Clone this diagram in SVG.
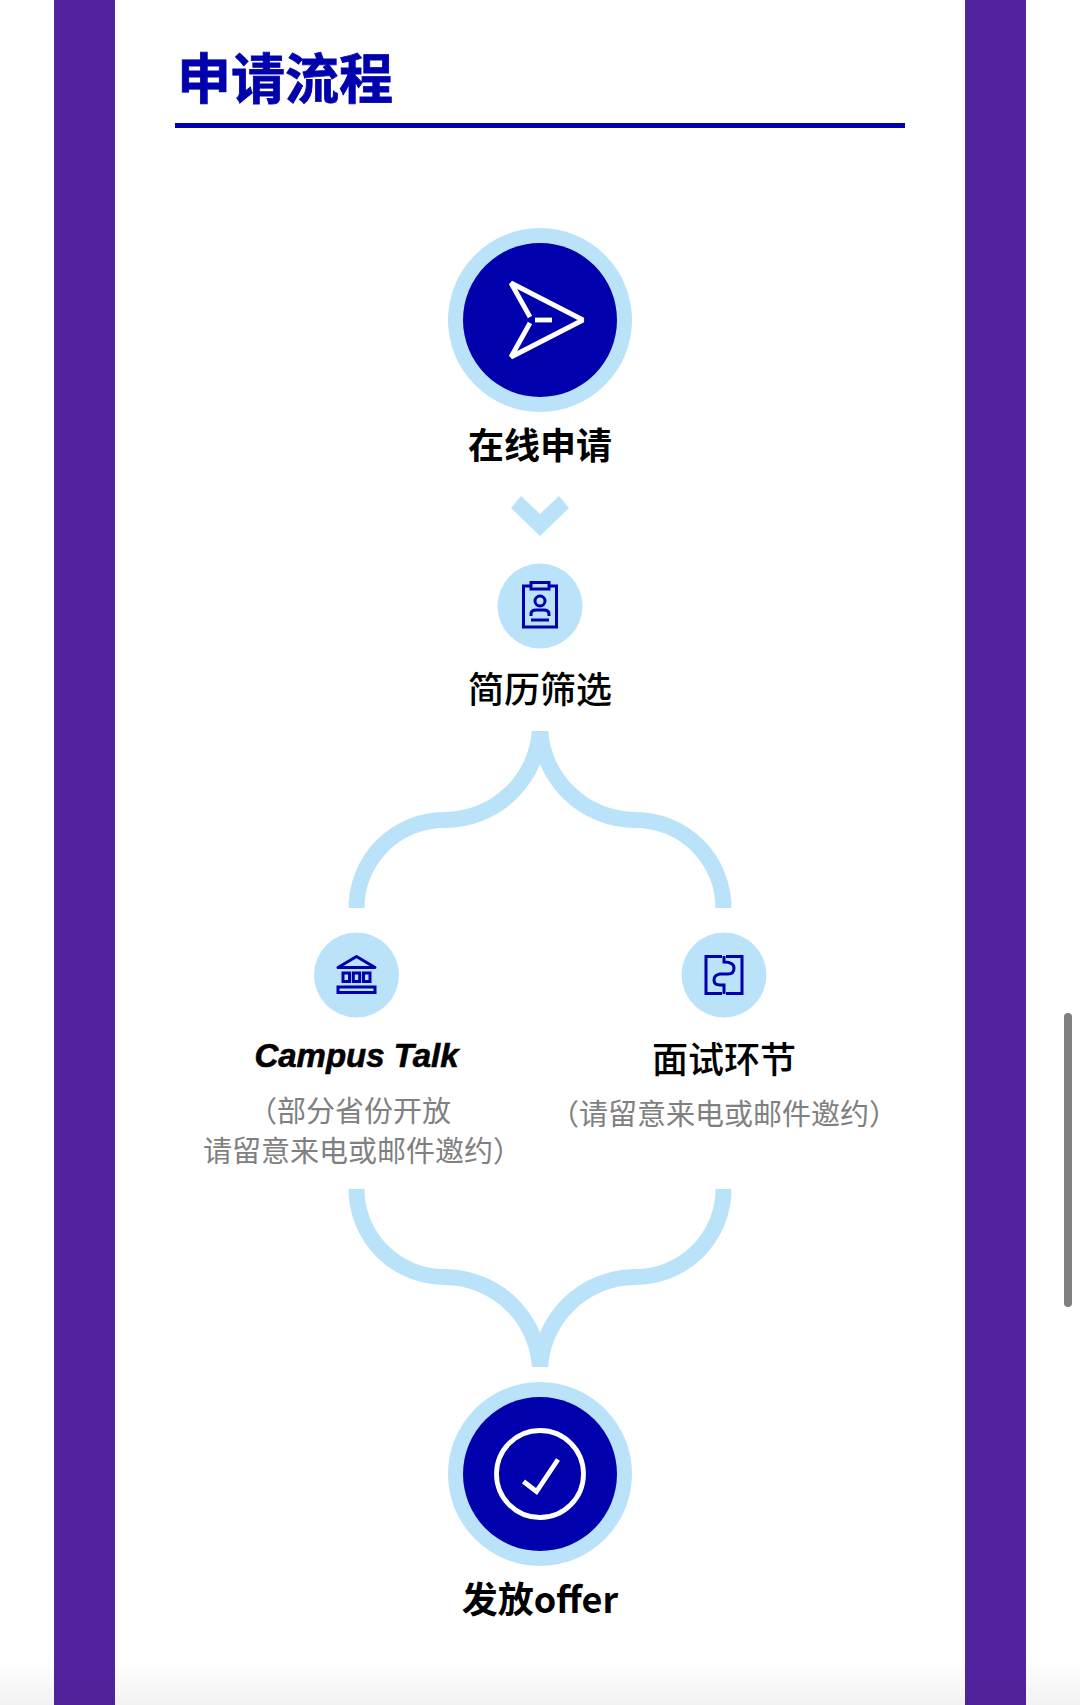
<svg xmlns="http://www.w3.org/2000/svg" width="1080" height="1705" viewBox="0 0 1080 1705">
<style>
.cjk{font-family:"Noto Sans CJK SC","Noto Sans",sans-serif}
.title{font-size:54px;font-weight:700;fill:#0000ac;stroke:#0000ac;stroke-width:.8}
.h{font-size:36px;fill:#000;text-anchor:middle}
.b{font-weight:700}
.m{font-weight:500}
.sub{font-size:29px;fill:#808080}
.light{fill:#bae3fa}
.navy{fill:#0000ac}
.wline{fill:none;stroke:#fff;stroke-width:4.800}
.nline{fill:none;stroke:#0000ac;stroke-width:3}
.conn{fill:none;stroke:#bae3fa;stroke-width:16}
</style>
<defs>
<linearGradient id="fade" x1="0" y1="0" x2="0" y2="1"><stop offset="0" stop-color="#000" stop-opacity="0"/><stop offset="1" stop-color="#000" stop-opacity="0.05"/></linearGradient>
<clipPath id="cTop"><rect x="300" y="731" width="480" height="177"/></clipPath>
<clipPath id="cBot"><rect x="300" y="1189" width="480" height="178"/></clipPath>
</defs>
<rect width="1080" height="1705" fill="#fff"/>
<g id="frame">
<rect x="54" y="0" width="61" height="1705" fill="#5423a0"/>
<rect x="965" y="0" width="61" height="1705" fill="#5423a0"/>
<rect x="1064" y="1013" width="8" height="294" rx="4" fill="#808080"/>
</g>
<g id="heading">
<text class="cjk title" x="177" y="99">申请流程</text>
<rect x="175" y="123" width="730" height="5" fill="#0000ac"/>
</g>
<g id="connectors">
<polygon class="light" points="511,508 521,496 540,514 559,496 569,508 540,536"/>
<g clip-path="url(#cTop)">
<path class="conn" d="M356.5 920V908A88 88 0 0 1 444.500 820A95.500 95.500 0 0 0 540 724.500"/>
<path class="conn" d="M723.500 920V908A88 88 0 0 0 635.500 820A95.500 95.500 0 0 1 540 724.500"/>
</g>
<g clip-path="url(#cBot)">
<path class="conn" d="M356.500 1177V1189A88 88 0 0 0 444.500 1277A95.500 95.500 0 0 1 540 1372.500"/>
<path class="conn" d="M723.500 1177V1189A88 88 0 0 1 635.500 1277A95.500 95.500 0 0 0 540 1372.500"/>
</g>
</g>
<g id="node-apply">
<circle class="light" cx="540" cy="320" r="92"/>
<circle class="navy" cx="540" cy="320" r="77"/>
<path class="wline" stroke-linejoin="bevel" d="M530 317L511 283L583 320L511 357L530 323"/>
<path class="wline" d="M535 320H552"/>
<text class="cjk h b" x="540" y="459">在线申请</text>
</g>
<g id="node-screen">
<circle class="light" cx="540" cy="606" r="42.500"/>
<path class="nline" d="M531 586H523.500V627H556.500V586H549M531 582.500H549V589H531Z"/>
<circle class="nline" cx="540" cy="601" r="5"/>
<path class="nline" d="M531 616V614Q531 610 536 610H544Q549 610 549 614V616M531 620H549"/>
<text class="cjk h m" x="540" y="703">简历筛选</text>
</g>
<g id="node-campus">
<circle class="light" cx="356.500" cy="975" r="42.500"/>
<path class="nline" d="M338 967.500L356.500 956.500L375 967.500Z" stroke-linejoin="round"/>
<path class="nline" d="M343 973H349.500V981.500H343ZM353.300 973H359.700V981.500H353.300ZM363.500 973H370V981.500H363.500Z"/>
<rect class="nline" x="338" y="987" width="37" height="5.500"/>
<text x="356.500" y="1067" text-anchor="middle" font-family="Liberation Sans,Arial,sans-serif" font-size="33" font-weight="700" font-style="italic" fill="#000" stroke="#000" stroke-width=".6">Campus Talk</text>
<text class="cjk sub" x="248" y="1122">（部分省份开放</text>
<text class="cjk sub" x="203" y="1162">请留意来电或邮件邀约）</text>
</g>
<g id="node-interview">
<circle class="light" cx="724" cy="975" r="42.500"/>
<path class="nline" d="M722 956.500H706V993.500H722M726 956.500H742V993.500H726M724 956V962Q734 962 734 968Q734 974 728 974H720Q714 975 714 980Q714 985 720 985H724V994"/>
<text class="cjk h m" x="724" y="1073">面试环节</text>
<text class="cjk sub" x="550" y="1125">（请留意来电或邮件邀约）</text>
</g>
<g id="node-offer">
<circle class="light" cx="540" cy="1474" r="92"/>
<circle class="navy" cx="540" cy="1474" r="77"/>
<circle class="wline" cx="540" cy="1474" r="43.500"/>
<path class="wline" d="M523.500 1481.500L536.500 1491.500L558 1459.500"/>
<text class="cjk h b" x="540" y="1613">发放offer</text>
</g>
<rect x="0" y="1660" width="1080" height="45" fill="url(#fade)"/>
</svg>
